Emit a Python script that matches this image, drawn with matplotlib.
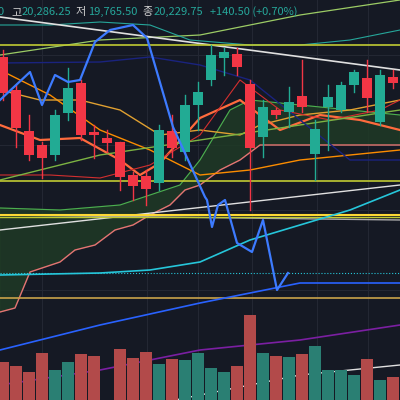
import matplotlib
matplotlib.use("Agg")
import matplotlib.pyplot as plt
import numpy as np

plt.rcParams['font.family'] = ['Noto Sans CJK KR', 'DejaVu Sans']

# candle data in chart price units (higher = up)
idx = list(range(31))
opens  = [343,310,269,255,245,287,317,268,262,258,225,224,217,269,248,295,320,342,346,316,263,290,288,304,246,293,290,315,322,278,323]
closes = [307,272,245,242,285,312,265,265,257,223,214,211,270,252,295,308,345,348,333,252,293,285,298,293,271,303,315,328,302,325,317]
highs  = [350,315,285,258,290,332,320,275,270,258,228,230,275,285,305,318,355,352,352,320,300,292,313,340,280,315,318,330,340,330,330]
lows   = [300,253,240,222,240,280,260,242,248,210,200,195,210,243,240,270,315,325,325,190,243,282,273,288,220,250,288,308,288,275,312]
vol    = [38,34,28,47,30,38,46,44,0,51,42,48,36,41,40,47,32,28,34,85,47,44,43,46,54,30,30,25,41,20,23]

blue_x = [0,30,42,55,68,80,95,110,133,147,173,205,207,212,218,225,237,252,263,277,288]
blue_y = [300,328,295,325,318,320,358,370,375,362,273,203,200,173,195,200,157,148,180,110,127]

UP, DN = '#22ab94', '#f23645'
fig = plt.figure(figsize=(4, 4), dpi=100)
ax = fig.add_axes([0, 0, 1, 1])
ax.set_facecolor('#151924')
fig.patch.set_facecolor('#151924')
ax.set_xlim(0, 400); ax.set_ylim(0, 400); ax.axis('off')

xs = np.array(idx) * 13 + 3
for gx in [42, 147, 198, 252, 317, 368]:
    ax.axvline(gx, color='#232733', lw=0.8, zorder=0)
for gy in [110, 190, 255, 345]:
    ax.axhline(gy, color='#232733', lw=0.8, zorder=0)

# cloud
sx = np.array([0,15,30,45,60,75,95,115,133,150,170,185,200,220,240,260,300,400])
sy = np.array([88,92,128,133,138,150,155,170,175,185,195,210,215,230,240,255,255,255])
ux = np.array([0, 60, 120, 150, 180, 200, 230, 250, 300, 350, 400])
uy = np.array([192, 190, 195, 205, 215, 240, 290, 300, 295, 290, 285])
xf = np.linspace(0, 400, 200)
lo = np.interp(xf, sx, sy); hi = np.interp(xf, ux, uy)
ax.fill_between(xf, lo, hi, where=hi > lo, color='#1f3a26', alpha=0.85, zorder=1)
ax.plot(ux, uy, color='#4caf50', lw=0.8, zorder=2)
ax.plot(sx, sy, color='#e57373', lw=1, zorder=2)
ax.plot([0,50,100,150,200,250,300,400],[330,305,270,250,225,230,240,250], color='#fb8c00', lw=1, zorder=2)
ax.plot([0,40,80,120,160,200,240,260,300,350,400],[310,300,300,290,265,270,265,275,285,290,300], color='#e0a030', lw=1, zorder=2)
ax.plot([0,40,80,120,140,160,200,240,280,320,360,400],[275,260,262,240,225,237,282,300,270,285,280,270], color='#ff6b3d', lw=1.6, zorder=2)
ax.plot([0,50,100,150,200,240,280,330,380,400],[225,225,222,235,265,320,290,280,290,300], color='#d32f2f', lw=0.8, zorder=2)
ax.plot([0,100,200,300,400],[220,245,260,275,290], color='#7cb342', lw=1, zorder=2)
ax.plot([0,100,200,300,400],[345,360,365,385,400], color='#9ccc65', lw=0.9, zorder=2)
ax.plot([0,50,100,150,190,250,300,350,400],[375,375,378,375,360,355,355,360,370], color='#26a69a', lw=0.8, zorder=2)
ax.plot([0,100,150,200,250,350,400],[337,338,343,335,320,240,240], color='#1a237e', lw=1, zorder=2)
ax.plot([0,400],[383,330], color='#e0e0e0', lw=1.2, zorder=3)
ax.plot([0,400],[170,215], color='#e0e0e0', lw=1, zorder=3)
ax.plot([0,400],[185,180], color='#aaaaaa', lw=1, zorder=3)
for hy, c, w in [(355, '#c0ca33', 1.2), (219, '#c0ca33', 1.2), (185, '#fdd835', 1.5), (183, '#c0ca33', 1), (102, '#c9a24a', 1.2)]:
    ax.axhline(hy, color=c, lw=w, zorder=3)
ax.axhline(127, color='#26c6da', lw=0.8, ls=':', zorder=3)
ax.plot([0,100,150,200,250,300,350,400],[125,127,130,138,160,175,190,210], color='#26c6da', lw=1.2, zorder=3)
ax.plot([0,100,200,300,400],[50,75,97,117,117], color='#2962ff', lw=1.2, zorder=3)
ax.plot([0,100,200,300,400],[15,30,50,60,75], color='#7b1fa2', lw=1.2, zorder=3)
ax.plot([175,300,400],[0,25,35], color='#e0e0e0', lw=1, zorder=3)

# volume
for x, v, o, c in zip(xs, vol, opens, closes):
    col = '#b24a4a' if c < o else '#2a7f73'
    ax.bar(x, v, width=12, bottom=0, color=col, zorder=4)

# candles
for x, o, c, h, l in zip(xs, opens, closes, highs, lows):
    col = UP if c >= o else DN
    ax.plot([x, x], [l, h], color=col, lw=1, zorder=5)
    ax.bar(x, abs(c - o) or 1, width=10, bottom=min(o, c), color=col, zorder=6)

ax.plot(blue_x, blue_y, color='#3d7bff', lw=1.6, zorder=7)

# header
ax.text(-2, 388, '0', color='#26a69a', fontsize=8, va='center')
y = 388
parts = [('고', '#d0d0d0', 11), ('20,286.25', '#26a69a', 22), ('저', '#d0d0d0', 76), ('19,765.50', '#26a69a', 88),
         ('종', '#d0d0d0', 142), ('20,229.75', '#26a69a', 154), ('+140.50 (+0.70%)', '#26a69a', 210)]
for t, c, x in parts:
    ax.text(x, y, t, color=c, fontsize=8, va='center')
fig.savefig('out.png', dpi=100, facecolor=fig.get_facecolor())
